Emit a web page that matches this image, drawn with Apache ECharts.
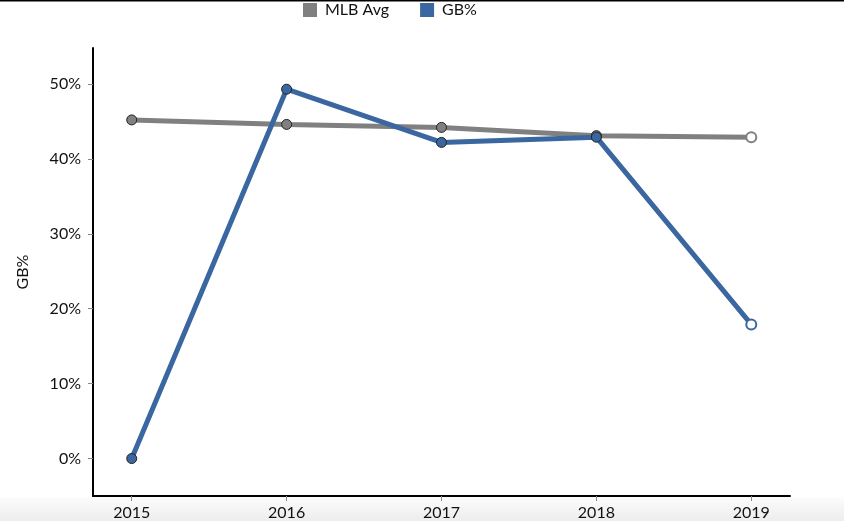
<!DOCTYPE html>
<html>
<head>
<meta charset="utf-8">
<script src="https://cdn.jsdelivr.net/npm/echarts@6/dist/echarts.min.js"></script>
<style>html,body{margin:0;padding:0;background:#fff}#c{width:844px;height:521px}</style>
</head>
<body>
<div id="c"></div>
<script>
var years = [2015, 2016, 2017, 2018, 2019];
var mlbAvg = [45.2, 44.6, 44.2, 43.1, 42.9];
var gbPct = [0.0, 49.3, 42.2, 42.9, 17.9];
var yTicks = [0, 10, 20, 30, 40, 50];
var projectedYear = 2019;

var chart = echarts.init(document.getElementById('c'));
function pts(vals, color) {
  return years.map(function (y, i) {
    var hollow = y === projectedYear;
    return {
      value: [y, vals[i]],
      itemStyle: hollow
        ? { color: '#fff', borderColor: color, borderWidth: 2 }
        : { color: color, borderColor: '#222', borderWidth: 1 }
    };
  });
}
var font = 'Lato, "Open Sans", sans-serif';
chart.setOption({
  animation: false,
  backgroundColor: '#fff',
  textStyle: { fontFamily: font },
  graphic: [
    { type: 'rect', shape: { x: 0, y: 0, width: 844, height: 1.5 }, style: { fill: '#000' }, silent: true },
    { type: 'rect', shape: { x: 0, y: 497, width: 844, height: 24 }, z: -10, silent: true,
      style: { fill: new echarts.graphic.LinearGradient(0, 0, 0, 1, [{ offset: 0, color: '#fcfcfc' }, { offset: 1, color: '#ededed' }]) } }
  ],
  legend: {
    top: 2, left: 303, padding: 0,
    itemWidth: 14, itemHeight: 14, itemGap: 31,
    icon: 'rect',
    textStyle: { fontFamily: font, fontSize: 16, color: '#111', padding: [0, 0, 0, 3] },
    data: [
      { name: 'MLB Avg', itemStyle: { color: '#808080', borderWidth: 0 } },
      { name: 'GB%', itemStyle: { color: '#3a67a0', borderWidth: 0 } }
    ]
  },
  grid: { left: 93, right: 54, top: 48, bottom: 24, containLabel: false },
  xAxis: {
    type: 'value', min: 2014.75, max: 2019.25,
    axisLine: { show: true, onZero: false, lineStyle: { color: '#000', width: 2 } },
    axisTick: { show: true, customValues: years, length: 5, lineStyle: { color: '#888' } },
    axisLabel: { customValues: years, formatter: function (v) { return String(v); }, fontSize: 16, color: '#111', fontFamily: font, margin: 9 },
    splitLine: { show: false }
  },
  yAxis: {
    type: 'value', min: -5, max: 54.8,
    name: 'GB%', nameLocation: 'middle', nameGap: 62, nameRotate: 90,
    nameTextStyle: { fontSize: 16, color: '#111', fontFamily: font },
    axisLine: { show: true, lineStyle: { color: '#000', width: 2 } },
    axisTick: { show: true, customValues: yTicks, length: 5, lineStyle: { color: '#888' } },
    axisLabel: { customValues: yTicks, formatter: function (v) { return v + '%'; }, fontSize: 16, color: '#111', fontFamily: font, margin: 12 },
    splitLine: { show: false }
  },
  series: [
    { name: 'MLB Avg', type: 'line', data: pts(mlbAvg, '#808080'), symbol: 'circle', symbolSize: 10,
      lineStyle: { color: '#808080', width: 5 }, itemStyle: { color: '#808080' }, z: 2 },
    { name: 'GB%', type: 'line', data: pts(gbPct, '#3a67a0'), symbol: 'circle', symbolSize: 10,
      lineStyle: { color: '#3a67a0', width: 5 }, itemStyle: { color: '#3a67a0' }, z: 3 }
  ]
});
</script>
</body>
</html>
